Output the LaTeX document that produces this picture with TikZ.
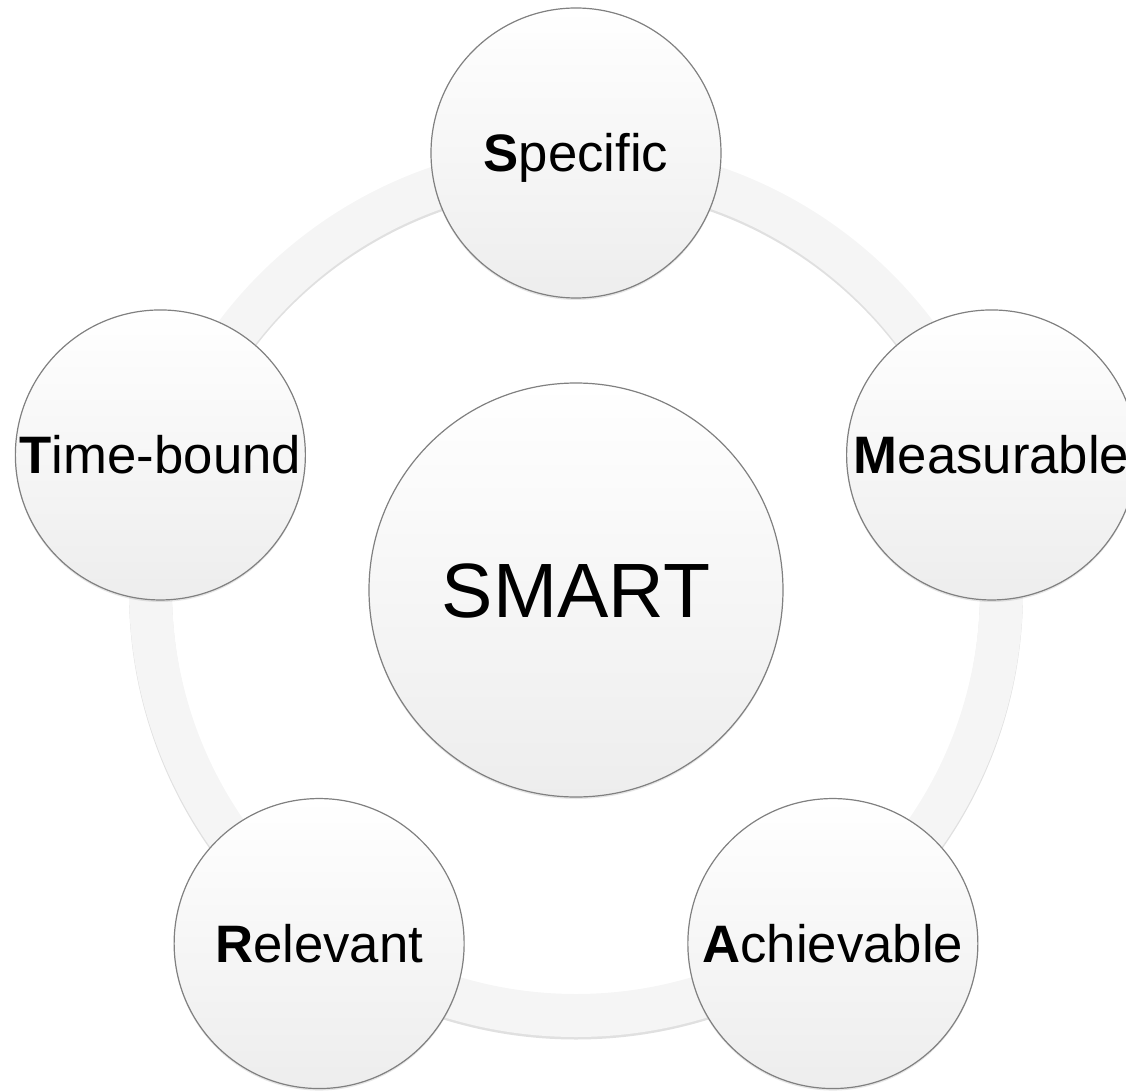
\documentclass[tikz,border=0pt]{standalone}
\usepackage{fontspec}
\setmainfont{Liberation Sans}
\usetikzlibrary{calc,shadows}
\tikzset{
  goal/.style={ % image of one letter of the acronym
    circle, draw=black!50, line width=1.2pt,
    minimum size=290pt, inner sep=0pt, text=black,
    top color=white, bottom color=black!7,
    drop shadow={opacity=0.2, shadow xshift=0pt, shadow yshift=-2pt},
    font=\fontsize{52.7}{60}\selectfont,
    text height=37.7pt, text depth=0pt
  },
  hub/.style={ % image of the centre node
    goal, minimum size=414pt,
    font=\fontsize{77}{90}\selectfont, text height=55pt
  },
  ring/.style={ % the band that links the goals
    draw=black!4, line width=43pt
  },
  ringshadow/.style={
    draw=black, opacity=0.12, line width=43pt
  }
}

\begin{document}
\begin{tikzpicture}[x=1pt, y=1pt]
  \useasboundingbox (-576,-500) rectangle (550,590);
  \coordinate (mid) at (0,0);
  \draw[ringshadow] ($(mid)+(0,-2.5)$) circle[radius=425.5];
  \draw[ring] (mid) circle[radius=425.5];

  \node[hub] (smart) at (mid) {SMART};
  \node[goal] (spec) at (90:437) {\textbf{S}pecific};
  \node[goal] (meas) at (18:437) {\textbf{M}easurable};
  \node[goal] (achv) at (-54:437) {\textbf{A}chievable};
  \node[goal] (relv) at (-126:437) {\textbf{R}elevant};
  \node[goal] (time) at (162:437) {\textbf{T}ime-bound};
\end{tikzpicture}
\end{document}
